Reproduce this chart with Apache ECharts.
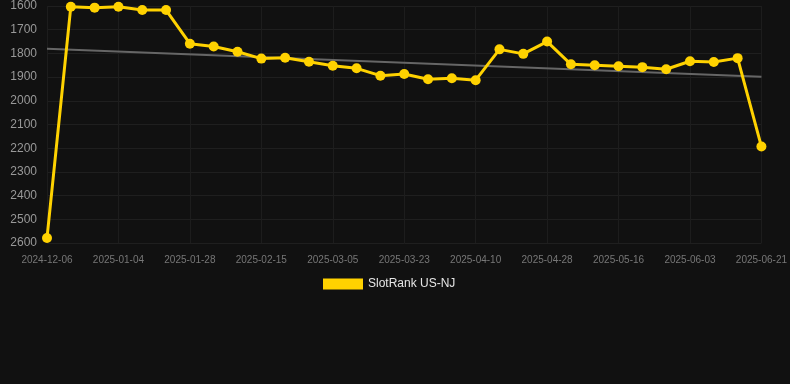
<!DOCTYPE html>
<html>
<head>
<meta charset="utf-8">
<script src="https://cdn.jsdelivr.net/npm/echarts@6/dist/echarts.min.js"></script>
<style>
  html, body { margin: 0; padding: 0; background: #111111; }
  #chart { width: 790px; height: 384px; }
</style>
</head>
<body>
<div id="chart"></div>
<script>
const dates = [
  "2024-12-06", "2024-12-16", "2024-12-26", "2025-01-04", "2025-01-12", "2025-01-20",
  "2025-01-28", "2025-02-03", "2025-02-09", "2025-02-15", "2025-02-21", "2025-02-27",
  "2025-03-05", "2025-03-11", "2025-03-17", "2025-03-23", "2025-03-29", "2025-04-04",
  "2025-04-10", "2025-04-16", "2025-04-22", "2025-04-28", "2025-05-04", "2025-05-10",
  "2025-05-16", "2025-05-22", "2025-05-28", "2025-06-03", "2025-06-09", "2025-06-15",
  "2025-06-21"
];
const rank = [
  2579, 1603, 1607, 1603, 1617, 1617, 1759, 1771, 1793, 1822, 1818, 1835,
  1852, 1863, 1894, 1887, 1909, 1905, 1913, 1783, 1802, 1750, 1846, 1850,
  1854, 1858, 1867, 1833, 1836, 1820, 2193
];
// trend line end points
const trendStart = 1780;
const trendEnd = 1898;
const trend = dates.map((d, i) => (i === 0 ? trendStart : i === dates.length - 1 ? trendEnd : null));

const chart = echarts.init(document.getElementById("chart"));
chart.setOption({
  backgroundColor: "#111111",
  animation: false,
  grid: { top: 6, left: 47, right: 28, bottom: 141 },
  legend: {
    data: [{ name: "SlotRank US-NJ", icon: "rect" }],
    top: 273,
    left: 318,
    itemWidth: 40,
    itemHeight: 11,
    itemGap: 6,
    textStyle: { color: "#e6e6e6", fontSize: 12, fontFamily: "Liberation Sans, Arial, sans-serif" },
  },
  xAxis: {
    type: "category",
    data: dates,
    boundaryGap: false,
    axisLine: { show: false },
    axisTick: { show: false },
    axisLabel: {
      interval: 2,
      color: "#777777",
      fontSize: 10,
      margin: 12,
      fontFamily: "Liberation Sans, Arial, sans-serif",
    },
    splitLine: { show: true, interval: 2, lineStyle: { color: "#1d1d1d", width: 1 } },
  },
  yAxis: {
    type: "value",
    inverse: true,
    min: 1600,
    max: 2600,
    interval: 100,
    axisLine: { show: false },
    axisTick: { show: false },
    axisLabel: {
      color: "#999999",
      fontSize: 12,
      margin: 10,
      formatter: (v) => String(v),
      fontFamily: "Liberation Sans, Arial, sans-serif",
    },
    splitLine: { lineStyle: { color: "#1f1f1f", width: 1 } },
  },
  series: [
    {
      name: "trend",
      type: "line",
      data: trend,
      connectNulls: true,
      symbol: "none",
      lineStyle: { color: "#666666", width: 2 },
      z: 1,
      silent: true,
    },
    {
      name: "SlotRank US-NJ",
      type: "line",
      data: rank,
      symbol: "circle",
      symbolSize: 10,
      showAllSymbol: true,
      itemStyle: { color: "#ffd200" },
      lineStyle: { color: "#ffd200", width: 3 },
      z: 3,
    },
  ],
});
</script>
</body>
</html>
